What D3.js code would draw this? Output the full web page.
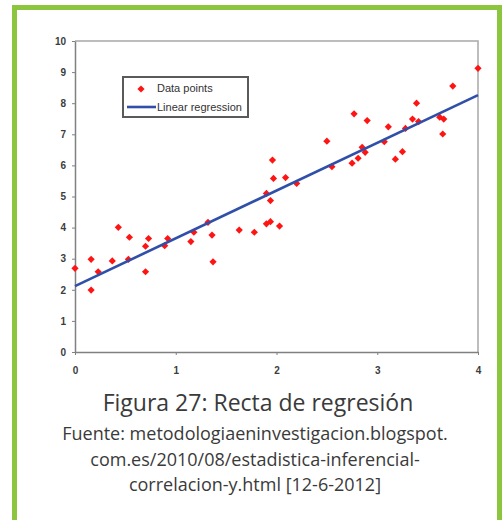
<!DOCTYPE html>
<html>
<head>
<meta charset="utf-8">
<script src="https://cdn.jsdelivr.net/npm/d3@7"></script>
<style>
  body { margin: 0; background: #fff; }
  svg { display: block; }
</style>
</head>
<body>
<svg width="502" height="520"></svg>
<script>
// data points
const xValues = [0.00,0.16,0.16,0.23,0.37,0.43,0.53,0.54,0.70,0.70,
    0.73,0.89,0.92,1.15,1.18,1.32,1.36,1.37,1.63,1.78,
    1.90,1.90,1.94,1.94,1.96,1.97,2.03,2.09,2.20,2.50,
    2.55,2.75,2.77,2.81,2.85,2.88,2.90,3.07,3.11,3.18,
    3.25,3.28,3.35,3.39,3.41,3.62,3.66,3.65,3.75,4.00];
const yValues = [2.69,2.98,1.99,2.58,2.93,4.01,2.98,3.69,3.40,2.58,
    3.65,3.42,3.65,3.55,3.85,4.17,3.76,2.90,3.92,3.85,
    5.10,4.12,4.19,4.87,6.17,5.58,4.05,5.61,5.42,6.78,
    5.96,6.07,7.66,6.23,6.58,6.42,7.44,6.76,7.24,6.20,
    6.44,7.19,7.49,8.00,7.41,7.55,7.49,7.01,8.55,9.12];
// regression line: intercept, slope
const regression = [2.12, 1.535];
const legendLabels = ["Data points", "Linear regression"];
const captionLines = [
    "Fuente: metodologiaeninvestigacion.blogspot.",
    "com.es/2010/08/estadistica-inferencial-",
    "correlacion-y.html [12-6-2012]"
];
const captionTitle = "Figura 27: Recta de regresión";

const svg = d3.select("svg");
const green = "#8cc63e";

// green frame (no bottom edge visible)
svg.append("rect").attr("x", 12).attr("y", 5).attr("width", 490).attr("height", 5).attr("fill", green);
svg.append("rect").attr("x", 12).attr("y", 5).attr("width", 5).attr("height", 515).attr("fill", green);
svg.append("rect").attr("x", 497).attr("y", 5).attr("width", 5).attr("height", 515).attr("fill", green);

const x = d3.scaleLinear().domain([0, 4]).range([75, 478]);
const y = d3.scaleLinear().domain([0, 10]).range([352, 41]);

// plot frame top/right
svg.append("path")
    .attr("d", `M${x(0)},${y(10)}H${x(4)}V${y(0)}`)
    .attr("fill", "none")
    .attr("stroke", "#a8a8a8")
    .attr("stroke-width", 1.5);

const yAxis = svg.append("g")
    .attr("transform", `translate(${x(0)},0)`)
    .call(d3.axisLeft(y).ticks(10).tickSize(3).tickPadding(6).tickSizeOuter(0));
const xAxis = svg.append("g")
    .attr("transform", `translate(0,${y(0)})`)
    .call(d3.axisBottom(x).ticks(4).tickSize(3).tickPadding(12).tickSizeOuter(0));

for (const g of [xAxis, yAxis]) {
    g.select(".domain").attr("stroke", "#808080").attr("stroke-width", 1.5);
    g.selectAll(".tick line").attr("stroke", "#808080");
    g.selectAll(".tick text")
        .attr("fill", "#3c3c3c")
        .attr("font-family", "Liberation Sans, Arial, sans-serif")
        .attr("font-weight", "bold")
        .attr("font-size", 10);
}

const points = d3.zip(xValues, yValues);

svg.append("g")
    .selectAll("path")
    .data(points)
    .enter().append("path")
    .attr("d", d3.symbol(d3.symbolSquare, 26)())
    .attr("transform", d => `translate(${x(d[0])},${y(d[1])}) rotate(45)`)
    .attr("fill", "#ff1414");

svg.append("line")
    .attr("x1", x(0)).attr("y1", y(regression[0]))
    .attr("x2", x(4)).attr("y2", y(regression[0] + regression[1] * 4))
    .attr("stroke", "#2f4fa8")
    .attr("stroke-width", 2.6);

// legend
const legend = svg.append("g");
legend.append("rect")
    .attr("x", 123).attr("y", 77).attr("width", 125).attr("height", 40)
    .attr("fill", "#fff")
    .attr("stroke", "#5a5a5a")
    .attr("stroke-width", 2);
legend.append("path")
    .attr("d", d3.symbol(d3.symbolSquare, 26)())
    .attr("transform", "translate(141,89) rotate(45)")
    .attr("fill", "#ff1414");
legend.append("line")
    .attr("x1", 127).attr("x2", 156).attr("y1", 107).attr("y2", 107)
    .attr("stroke", "#2f4fa8").attr("stroke-width", 2.6);
legend.selectAll("text")
    .data(legendLabels)
    .enter().append("text")
    .attr("x", 157)
    .attr("y", (d, i) => 92 + i * 19)
    .attr("font-family", "Liberation Sans, Arial, sans-serif")
    .attr("font-size", 11)
    .attr("fill", "#333")
    .text(d => d);

// caption
svg.append("text")
    .attr("x", 258).attr("y", 411)
    .attr("text-anchor", "middle")
    .attr("font-family", "Open Sans, sans-serif")
    .attr("font-size", 23)
    .attr("fill", "#3a3a3a")
    .text(captionTitle);

svg.append("g")
    .selectAll("text")
    .data(captionLines)
    .enter().append("text")
    .attr("x", 255)
    .attr("y", (d, i) => 440 + i * 25.5)
    .attr("text-anchor", "middle")
    .attr("font-family", "Open Sans, sans-serif")
    .attr("font-size", 18)
    .attr("fill", "#3a3a3a")
    .text(d => d);
</script>
</body>
</html>
